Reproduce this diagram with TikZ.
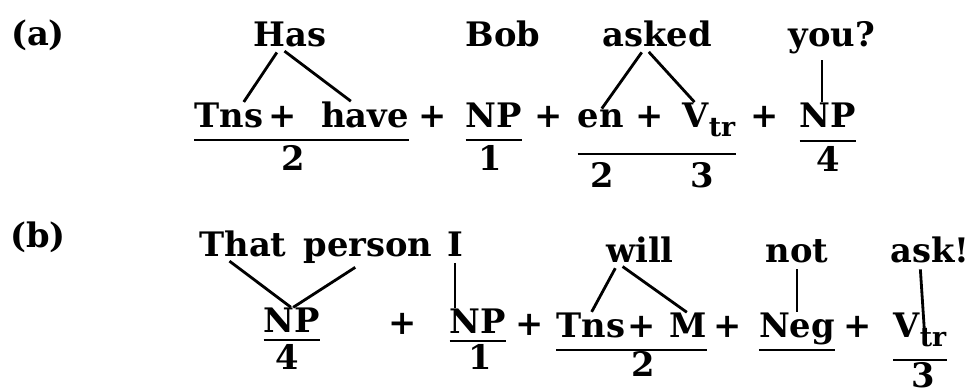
\documentclass[tikz,border=0pt]{standalone}
\usepackage{fontspec}
\usepackage{tikz}
\usetikzlibrary{positioning,calc}
\newfontfamily\lingfont{DejaVu Serif}
\newcommand{\wdfont}{\lingfont\bfseries\fontsize{24}{28}\selectfont}
\newcommand{\Vtr}{V\raisebox{-6pt}{\fontsize{19}{19}\selectfont tr}}
\tikzset{
  wd/.style={font=\wdfont,inner sep=0pt,anchor=base},
  uline/.style={line width=2.1pt},
  branch/.style={line width=2pt,shorten <=4pt,shorten >=1pt},
}
\begin{document}
\begin{tikzpicture}[x=0.025cm,y=-0.025cm]
  \useasboundingbox (0,0) rectangle (976,392);
  % ---- (a) question ----
  \node[wd] (lblA) at (38,46) {(a)};
  \node[wd] (has) at (290,47) {Has};
  \node[wd] (bob) at (503,47) {Bob};
  \node[wd] (asked) at (657,47) {asked};
  \node[wd] (you) at (832,47) {you?};
  \node[wd] (tnsA) at (229,128) {Tns};
  \node[wd] (plA1) at (283,128) {+};
  \node[wd] (haveA) at (365,128) {have};
  \node[wd] (plA2) at (433,128) {+};
  \node[wd] (npA1) at (494,128) {NP};
  \node[wd] (plA3) at (549,128) {+};
  \node[wd] (enA) at (601,128) {en};
  \node[wd] (plA4) at (650,128) {+};
  \node[wd] (vtrA) at (709,128) {\Vtr};
  \node[wd] (plA5) at (765,128) {+};
  \node[wd] (npA4) at (828,128) {NP};
  % order numbers
  \node[wd] (oA2) at (293,171) {2};
  \node[wd] (oA1) at (490,171) {1};
  \node[wd] (oA2b) at (602,188) {2};
  \node[wd] (oA3) at (702,188) {3};
  \node[wd] (oA4) at (828,172) {4};
  % underlines
  \draw[uline] ($(tnsA.base west)+(0,12)$) -- ($(haveA.base east)+(0,12)$);
  \draw[uline] ($(npA1.base west)+(0,12)$) -- ($(npA1.base east)+(0,12)$);
  \draw[uline] ($(enA.base west)+(0,26)$) -- ($(vtrA.base east)+(0,26)$);
  \draw[uline] ($(npA4.base west)+(0,13)$) -- ($(npA4.base east)+(0,13)$);
  % branches
  \draw[branch] ($(has.south)+(-10,0)$) -- ($(tnsA.north)+(14,0)$);
  \draw[branch] ($(has.south)+(-10,0)$) -- ($(haveA.north)+(-13,0)$);
  \draw[branch] ($(asked.south)+(-12,0)$) -- (enA.north);
  \draw[branch] ($(asked.south)+(-12,0)$) -- ($(vtrA.north west)+(13,0)$);
  \coordinate (youFoot) at ($(you.south)+(-10,0)$);
  \draw[branch] (youFoot) -- (youFoot |- npA4.north);
  % ---- (b) exclamation ----
  \node[wd] (lblB) at (38,248) {(b)};
  \node[wd] (that) at (243,257) {That};
  \node[wd] (person) at (368,257) {person};
  \node[wd] (iB) at (455,257) {I};
  \node[wd] (will) at (640,263) {will};
  \node[wd] (notB) at (797,263) {not};
  \node[wd] (askB) at (930,263) {ask!};
  \node[wd] (npB4) at (292,333) {NP};
  \node[wd] (plB1) at (403,335) {+};
  \node[wd] (npB1) at (478,334) {NP};
  \node[wd] (plB2) at (530,336) {+};
  \node[wd] (tnsB) at (591,338) {Tns};
  \node[wd] (plB3) at (642,338) {+};
  \node[wd] (mB) at (688,338) {M};
  \node[wd] (plB4) at (728,338) {+};
  \node[wd] (negB) at (797,338) {Neg};
  \node[wd] (plB5) at (858,338) {+};
  \node[wd] (vtrB) at (920,338) {\Vtr};
  % order numbers
  \node[wd] (oB4) at (287,370) {4};
  \node[wd] (oB1) at (480,370) {1};
  \node[wd] (oB2) at (643,377) {2};
  \node[wd] (oB3) at (923,388) {3};
  % underlines
  \draw[uline] ($(npB4.base west)+(0,7)$) -- ($(npB4.base east)+(0,7)$);
  \draw[uline] ($(npB1.base west)+(0,7)$) -- ($(npB1.base east)+(0,7)$);
  \draw[uline] ($(tnsB.base west)+(0,12)$) -- ($(mB.base east)+(0,12)$);
  \draw[uline] ($(negB.base west)+(0,12)$) -- ($(negB.base east)+(0,12)$);
  \draw[uline] ($(vtrB.base west)+(0,22)$) -- ($(vtrB.base east)+(0,22)$);
  % branches
  \draw[branch] ($(that.south)+(-18,0)$) -- (npB4.north);
  \draw[branch] ($(person.south)+(-8,0)$) -- (npB4.north);
  \draw[branch] (iB.south) -- (iB.south |- npB1.north);
  \draw[branch] ($(will.south)+(-22,0)$) -- (tnsB.north);
  \draw[branch] ($(will.south)+(-22,0)$) -- (mB.north);
  \draw[branch] (notB.south) -- (negB.north);
  \draw[branch] ($(askB.south)+(-10,0)$) -- ($(vtrB.base)+(5,2)$);
\end{tikzpicture}
\end{document}
